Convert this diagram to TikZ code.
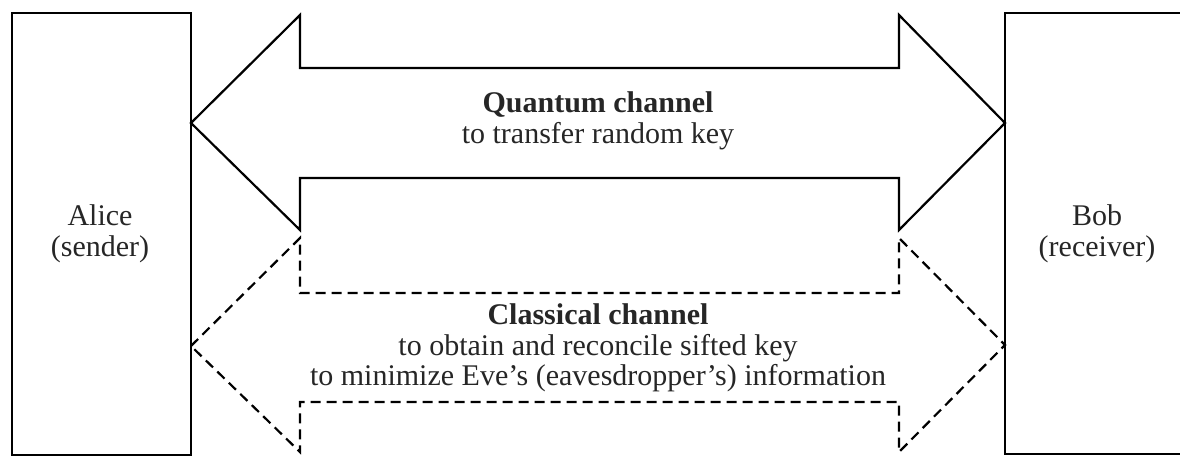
\documentclass[tikz,border=0pt]{standalone}
\usepackage{fontspec}
\setmainfont{Liberation Serif}
\begin{document}
\begin{tikzpicture}[x=1pt,y=-1pt,
  party/.style={draw,line width=2.2pt},
  label/.style={align=center,font=\fontsize{30}{30.5}\selectfont,text=black!85},
  solidarrow/.style={draw,line width=2.2pt,line join=miter},
  dasharrow/.style={draw,line width=2.2pt,dash pattern=on 10pt off 6pt},
]
\useasboundingbox (0,0) rectangle (1180,458);
\clip (0,0) rectangle (1180,458);
% parties
\draw[party] (12,13) rectangle (191,455);
\draw[party] (1005,13) rectangle (1184,454);
\node[label] (alice) at (100,234) {Alice\\(sender)};
\node[label] (bob) at (1097,234) {Bob\\(receiver)};
% quantum channel (solid double arrow)
\coordinate (qL) at (191,123);
\coordinate (qR) at (1005,123);
\draw[solidarrow] (qL) -- (300,15) -- (300,68) -- (899,68) -- (899,15) -- (qR)
  -- (899,230) -- (899,178) -- (300,178) -- (300,230) -- cycle;
\node[label] (quantum) at (598,121) {\textbf{Quantum channel}\\to transfer random key};
% classical channel (dashed double arrow)
\coordinate (cL) at (191,346);
\coordinate (cR) at (1005,345);
\draw[dasharrow] (cL) -- (300,238) -- (300,293) -- (899,293) -- (899,238) -- (cR)
  -- (899,452) -- (899,402) -- (300,402) -- (300,452) -- cycle;
\node[label] (classical) at (598,348) {\textbf{Classical channel}\\to obtain and reconcile sifted key\\to minimize Eve’s (eavesdropper’s) information};
\end{tikzpicture}
\end{document}
